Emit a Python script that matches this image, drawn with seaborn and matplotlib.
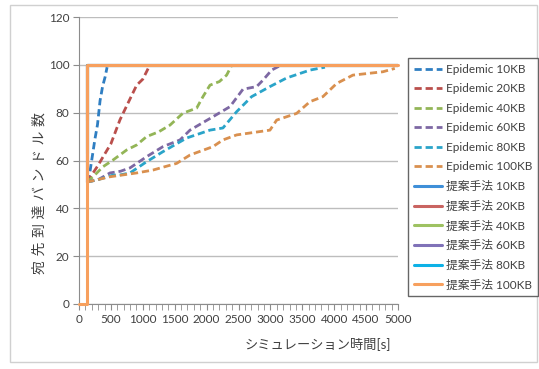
import matplotlib
matplotlib.use("Agg")
import matplotlib.pyplot as plt
import seaborn as sns
from matplotlib.patches import Rectangle
from matplotlib.ticker import MultipleLocator

# Epidemic (dashed)
epi10_t = [130, 170, 210, 250, 290, 330, 370, 410, 440]
epi10_v = [51, 55, 62, 69, 75, 85, 91, 95, 99]
epi20_t = [130, 200, 300, 376, 500, 642, 750, 904, 1000, 1113]
epi20_v = [51, 54, 58, 61.5, 67, 77, 83, 91.5, 94, 100]
epi40_t = [130, 250, 376, 533, 747, 904, 1060, 1250, 1426, 1630, 1844, 1943, 2053, 2200, 2314, 2397]
epi40_v = [51, 54, 57.4, 60.2, 64.4, 66.5, 70, 72, 74.8, 79.8, 81.9, 86.7, 91.5, 93, 95.7, 100]
epi60_t = [130, 300, 486, 650, 799, 1060, 1316, 1583, 1740, 2100, 2366, 2570, 2784, 2884, 3019, 3176]
epi60_v = [51, 52, 54.8, 55.5, 56.9, 61.6, 65.8, 68.6, 72.7, 78.3, 82.5, 89.8, 90.9, 93.6, 97.8, 100]
epi80_t = [130, 300, 533, 650, 799, 1060, 1316, 1687, 2053, 2256, 2471, 2706, 2993, 3254, 3620, 3855]
epi80_v = [51, 52, 53.9, 54, 54.8, 59.5, 63.7, 69.4, 72.7, 73.6, 80.4, 86.7, 90.9, 94.5, 97.8, 99]
epi100_t = [130, 486, 904, 1159, 1531, 1740, 2100, 2256, 2471, 2993, 3098, 3411, 3620, 3823, 4038, 4293, 4763, 4950]
epi100_v = [51, 53.2, 54.8, 56, 58.8, 62.3, 65.8, 68.6, 70.7, 72.7, 76.9, 79.7, 84.6, 86.7, 92.2, 95.7, 97.1, 98.5]

# 提案手法 (solid)
prop10_t = [120, 120, 5000]
prop10_v = [51, 100, 100]
prop20_t = [122, 122, 5000]
prop20_v = [51, 100, 100]
prop40_t = [128, 128, 5000]
prop40_v = [77, 100, 100]
prop60_t = [120, 120, 5000]
prop60_v = [51, 100, 100]
prop80_t = [118, 118, 5000]
prop80_v = [63, 100, 100]
prop100_t = [0, 125, 125, 5000]
prop100_v = [0, 0, 100, 100]

sizes = ["10KB", "20KB", "40KB", "60KB", "80KB", "100KB"]
epi_colors = ["#2F7EC2", "#BA4F4C", "#93B557", "#7D68A3", "#2AA4C9", "#D9904F"]
prop_colors = ["#3F8FD8", "#C96461", "#9EC262", "#8072B8", "#0DB1E6", "#F7A05E"]

epi_series = [(epi10_t, epi10_v), (epi20_t, epi20_v), (epi40_t, epi40_v),
              (epi60_t, epi60_v), (epi80_t, epi80_v), (epi100_t, epi100_v)]
prop_series = [(prop10_t, prop10_v), (prop20_t, prop20_v), (prop40_t, prop40_v),
               (prop60_t, prop60_v), (prop80_t, prop80_v), (prop100_t, prop100_v)]

sns.set_style("white")
plt.rcParams['font.family'] = ['Lato', 'Noto Sans CJK JP', 'DejaVu Sans']

fig = plt.figure(figsize=(5.39, 3.69), dpi=100)
ax = fig.add_axes([79/539, 1-304/369, 319/539, 287/369])

fig.patches.append(Rectangle((10/539, 1-362/369), 527/539, 357/369, transform=fig.transFigure,
                             fill=False, edgecolor="#D0D0D0", linewidth=1.0))

for (t, v), c, s in zip(epi_series, epi_colors, sizes):
    sns.lineplot(x=t, y=v, ax=ax, color=c, linewidth=2.0, estimator=None, sort=False,
                 label=f"Epidemic {s}")
    ax.lines[-1].set_dashes((2.6, 1.4))

for (t, v), c, s in zip(prop_series, prop_colors, sizes):
    sns.lineplot(x=t, y=v, ax=ax, color=c, linewidth=2.2, estimator=None, sort=False,
                 label=f"提案手法 {s}")
ax.lines[-1].set_clip_on(False)
ax.lines[-1].set_zorder(3)

ax.set_xlim(0, 5000)
ax.set_ylim(0, 120)
ax.xaxis.set_major_locator(MultipleLocator(500))
ax.xaxis.set_minor_locator(MultipleLocator(100))
ax.yaxis.set_major_locator(MultipleLocator(20))
ax.grid(axis='y', color="#BDBDBD", linewidth=1.0)
ax.grid(axis='x', visible=False)
ax.set_axisbelow(True)
for side in ["top", "right"]:
    ax.spines[side].set_visible(False)
for side in ["left", "bottom"]:
    ax.spines[side].set_color("#8C8C8C")
ax.tick_params(axis='both', which='major', length=4, color="#8C8C8C", labelsize=8.5,
               labelcolor="#404040", direction='out', bottom=True, left=True, pad=3)
ax.tick_params(axis='x', which='minor', length=4, color="#8C8C8C", direction='out', bottom=True)

ax.set_xlabel("シミュレーション時間[s]", fontsize=9.5, color="#404040")
ax.set_ylabel("\u2004".join("宛先到達バンドル数"), fontsize=10, color="#404040")
ax.xaxis.set_label_coords(0.75, -0.114)
ax.yaxis.set_label_coords(-0.105, 0.387)

handles, labels = ax.get_legend_handles_labels()
ax.get_legend().remove()
leg = fig.legend(handles, labels, loc='upper left', bbox_to_anchor=(408/539, 1-58/369),
                 fontsize=8.5, frameon=True, fancybox=False, edgecolor="#404040",
                 labelspacing=0.72, handlelength=2.4, handletextpad=0.3, borderpad=0.5,
                 borderaxespad=0)
leg.get_frame().set_linewidth(1.0)
for txt in leg.get_texts():
    txt.set_color("#404040")

fig.savefig("out.png", dpi=100)
